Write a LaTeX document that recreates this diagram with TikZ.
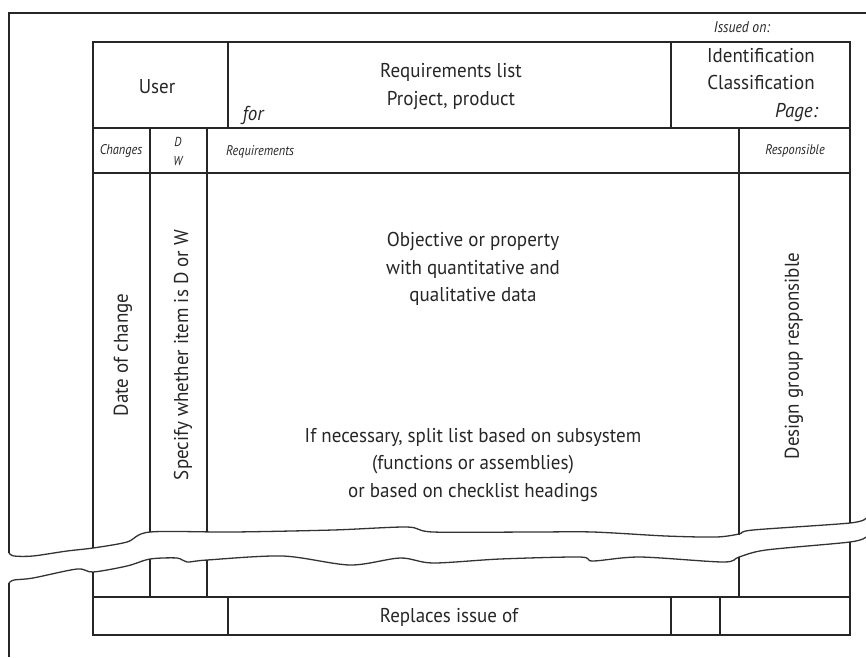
\documentclass[tikz,border=0pt]{standalone}
\usepackage{fontspec}
\setmainfont{PT Sans}
\newfontfamily\condfont[FakeStretch=0.95]{PT Sans}
\newfontfamily\smallfont[FakeStretch=0.88]{PT Sans}
\begin{document}
\begin{tikzpicture}[x=1pt,y=-1pt,
  frame/.style={line width=1.6pt,black!85},
  grid/.style={line width=1.6pt,black!85},
  brk/.style={line width=1.3pt,black!80},
  big/.style={inner sep=0pt,font=\condfont\fontsize{20}{27.5}\selectfont,align=center,text=black!85},
  bigit/.style={inner sep=0pt,font=\condfont\fontsize{20}{27.5}\selectfont\itshape,text=black!85},
  small/.style={inner sep=0pt,font=\smallfont\fontsize{14}{18}\selectfont\itshape,text=black!85},
  rot/.style={big,rotate=90}]
\useasboundingbox (0,0) rectangle (866,657);
% outer page frame
\draw[frame] (9,553) -- (9,13) -- (866,13);
\draw[frame] (9,583) -- (9,657);
% break lines
\draw[brk] plot[smooth,tension=0.5] coordinates {(9,553) (14,556) (33,556) (67,551) (93,548) (127,542) (150,532) (233,532) (333,530) (407,527) (433,532) (533,532) (593,532) (666,536) (716,537) (739,534) (753,530) (850,523) (866,518)};
\draw[brk] plot[smooth,tension=0.5] coordinates {(9,583) (14,580) (33,578) (77,569) (93,572) (127,566) (150,559) (177,558) (187,562) (207,560) (283,556) (350,565) (400,558) (433,563) (500,559) (580,557) (593,561) (640,557) (723,562) (739,557) (766,550) (850,542) (866,537)};
% upper table
\draw[grid] (93,548) -- (93,42) -- (850,42) -- (850,523);
\draw[grid] (228,42) -- (228,128);
\draw[grid] (671,42) -- (671,128);
\draw[grid] (93,128) -- (850,128);
\draw[grid] (93,173) -- (850,173);
\draw[grid] (150,128) -- (150,532);
\draw[grid] (207,128) -- (207,532);
\draw[grid] (739,128) -- (739,535);
% lower table
\draw[grid] (93,572) -- (93,635) -- (850,635) -- (850,542);
\draw[grid] (150,559) -- (150,597);
\draw[grid] (207,560) -- (207,597);
\draw[grid] (739,557) -- (739,597);
\draw[grid] (93,597) -- (850,597);
\draw[grid] (228,597) -- (228,635);
\draw[grid] (671,597) -- (671,635);
\draw[grid] (720,597) -- (720,635);
% texts
\node[small,font=\smallfont\fontsize{15.5}{18}\selectfont\itshape] (issued) at (742,27) {Issued on:};
\node[big] (user) at (157,87) {User};
\node[big,anchor=base] (req) at (451,77) {Requirements list};
\node[big,anchor=base] (proj) at (451,105) {Project, product};
\node[bigit,anchor=base] (for) at (253,120) {for};
\node[big,anchor=base] (ident) at (761,62) {Identification};
\node[big,anchor=base] (class) at (761,89) {Classification};
\node[bigit,anchor=base east] (page) at (818,117) {Page:};
\node[small] (changes) at (121,151) {Changes};
\node[small,align=center,font=\smallfont\fontsize{13}{19}\selectfont\itshape] (dw) at (178,151) {D\\W};
\node[small,anchor=west] (reqs) at (226,152) {Requirements};
\node[small] (resp) at (795,151) {Responsible};
\node[rot] (date) at (123,355) {Date of change};
\node[rot] (spec) at (183,355) {Specify whether item is D or W};
\node[rot] (design) at (794,356) {Design group responsible};
\node[big] (obj) at (473,269) {Objective or property\\with quantitative and\\qualitative data};
\node[big] (split) at (473,465) {If necessary, split list based on subsystem\\(functions or assemblies)\\or based on checklist headings};
\node[big] (repl) at (449,617) {Replaces issue of};
\end{tikzpicture}
\end{document}
